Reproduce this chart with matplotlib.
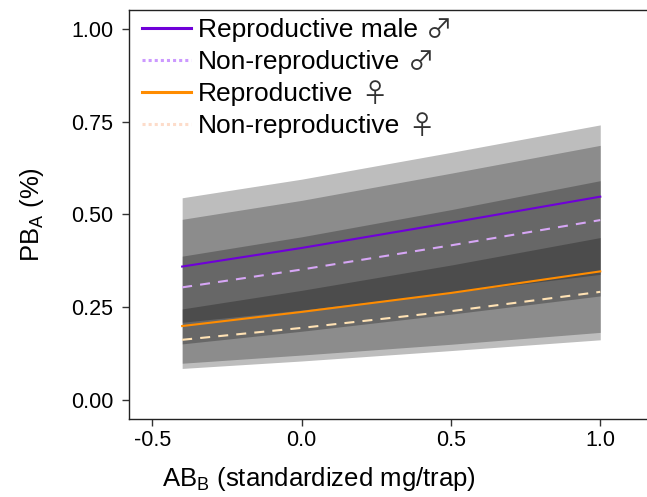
"""Predicted PB_A vs standardized AB_B, four reproductive groups with CI ribbons."""

import matplotlib

matplotlib.use("Agg")
import matplotlib.pyplot as plt
from matplotlib.lines import Line2D

plt.rcParams["font.family"] = ["Liberation Sans", "DejaVu Sans"]
plt.rcParams["mathtext.default"] = "regular"

x = [-0.4, 0.0, 0.5, 1.0]

# fitted lines
male_rep = [0.360, 0.410, 0.478, 0.548]
male_non = [0.304, 0.352, 0.417, 0.485]
fem_rep = [0.200, 0.238, 0.289, 0.347]
fem_non = [0.163, 0.195, 0.240, 0.292]

# confidence ribbons (lower, upper)
male_rep_lo = [0.210, 0.243, 0.290, 0.339]
male_rep_hi = [0.545, 0.595, 0.667, 0.741]
male_non_lo = [0.152, 0.186, 0.232, 0.281]
male_non_hi = [0.487, 0.538, 0.611, 0.686]
fem_rep_lo = [0.100, 0.122, 0.151, 0.183]
fem_rep_hi = [0.388, 0.440, 0.513, 0.591]
fem_non_lo = [0.086, 0.106, 0.134, 0.163]
fem_non_hi = [0.246, 0.296, 0.364, 0.438]

labels = ["Reproductive male", "Non-reproductive",
          "Reproductive", "Non-reproductive"]
symbols = ["\u2642", "\u2642", "\u2640", "\u2640"]

fig = plt.figure(figsize=(6.47, 4.97), dpi=100)
ax = fig.add_axes([129 / 647, 1 - 419 / 497, (660 - 129) / 647, (419 - 10) / 497])

for lo, hi in ((male_rep_lo, male_rep_hi), (male_non_lo, male_non_hi),
               (fem_rep_lo, fem_rep_hi), (fem_non_lo, fem_non_hi)):
    ax.fill_between(x, lo, hi, color="black", alpha=0.26, linewidth=0)

dash = (0, (4.8, 3.9))
ax.plot(x, male_rep, color="#6F00D8", lw=1.5)
ax.plot(x, male_non, color="#D6A6F5", lw=1.5, ls=dash)
ax.plot(x, fem_rep, color="#FF8C00", lw=1.5)
ax.plot(x, fem_non, color="#FFE2B4", lw=1.5, ls=dash)

handles = [
    Line2D([], [], color="#6F00D8", lw=2.2),
    Line2D([], [], color="#CC99FF", lw=2.2, ls=(0, (1, 1))),
    Line2D([], [], color="#FF8C00", lw=2.2),
    Line2D([], [], color="#FDDCCA", lw=2.2, ls=(0, (1, 1))),
]
leg = ax.legend(handles, labels, loc="upper left", bbox_to_anchor=(0.0, 1.012),
                frameon=False, fontsize=19, handlelength=1.85, handletextpad=0.25,
                labelspacing=0.3, borderaxespad=0.1, borderpad=0.4)

ax.set_xlim(-0.578, 1.2)
ax.set_ylim(-0.05, 1.05)
ax.set_xticks([-0.5, 0.0, 0.5, 1.0])
ax.set_yticks([0.0, 0.25, 0.5, 0.75, 1.0])
ax.set_xticklabels(["-0.5", "0.0", "0.5", "1.0"])
ax.set_yticklabels(["0.00", "0.25", "0.50", "0.75", "1.00"])
ax.tick_params(labelsize=15.5, length=5, width=1, color="#333333",
               labelcolor="black")
ax.tick_params(axis="x", pad=3)
ax.tick_params(axis="y", pad=6.5)
ax.spines["right"].set_visible(False)
for side in ("left", "bottom", "top"):
    ax.spines[side].set_linewidth(1)
    ax.spines[side].set_color("#222222")

ax.set_xlabel("AB$_B$ (standardized mg/trap)", fontsize=18.5)
ax.xaxis.set_label_coords((318.5 - 129) / 531, -0.112)
ax.set_ylabel("PB$_A$ (%)", fontsize=18.5)
ax.yaxis.set_label_coords(-(129 - 46) / 531, 0.5)

# sex symbols drawn after each legend label in a thinner font
fig.canvas.draw()
inv = fig.transFigure.inverted()
for txt, sym in zip(leg.get_texts(), symbols):
    bb = txt.get_window_extent()
    x0, y0 = inv.transform((bb.x1 + 8, (bb.y0 + bb.y1) / 2))
    fig.text(x0, y0, sym, fontsize=19, va="center", ha="left",
             family=["Noto Sans CJK JP", "DejaVu Sans"], color="#333333")

fig.savefig("out.png", dpi=100)
